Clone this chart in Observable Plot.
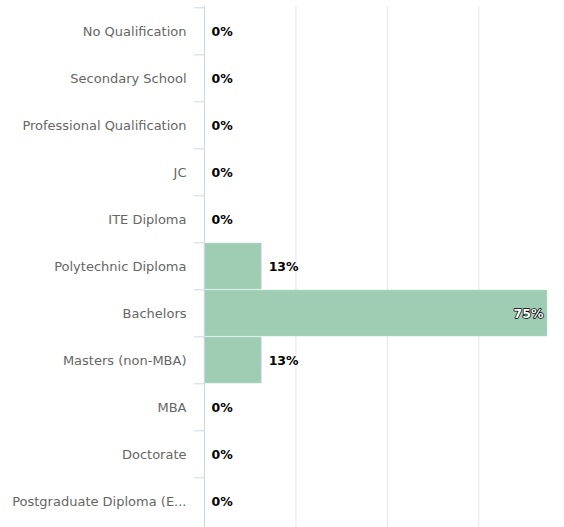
<!DOCTYPE html>
<html>
<head>
<meta charset="utf-8">
<script src="https://cdn.jsdelivr.net/npm/d3@7"></script>
<script src="https://cdn.jsdelivr.net/npm/@observablehq/plot@0.6"></script>
<style>
  html, body { margin: 0; padding: 0; background: #fff; }
  #chart svg { display: block; }
</style>
</head>
<body>
<div id="chart"></div>
<script>
const categories = [
  "No Qualification",
  "Secondary School",
  "Professional Qualification",
  "JC",
  "ITE Diploma",
  "Polytechnic Diploma",
  "Bachelors",
  "Masters (non-MBA)",
  "MBA",
  "Doctorate",
  "Postgraduate Diploma (E..."
];
const values = [0, 0, 0, 0, 0, 12.5, 75, 12.5, 0, 0, 0];
const gridTicks = [20, 40, 60];

const data = categories.map((c, i) => ({category: c, value: values[i], label: Math.round(values[i]) + "%"}));
const insideData = data.filter(d => d.value >= 50);
const outsideData = data.filter(d => d.value < 50);

const H = 527, MT = 6, MB = 0;
const band = (H - MT - MB) / categories.length;

const chart = Plot.plot({
  width: 564,
  height: H,
  marginLeft: 204,
  marginRight: 17,
  marginTop: MT,
  marginBottom: MB,
  style: {fontFamily: "DejaVu Sans, sans-serif", background: "#fff"},
  x: {domain: [0, 75], axis: null},
  y: {domain: categories, padding: 0.02, axis: null},
  marks: [
    Plot.ruleX(gridTicks, {stroke: "#e6e6e6", strokeWidth: 1, strokeOpacity: 1}),
    Plot.barX(data, {x: "value", y: "category", fill: "#9fcdb4", stroke: "#b8dcc8", strokeWidth: 0.5}),
    Plot.axisY({tickSize: 10, text: null, label: null, stroke: "#ccd6eb", strokeOpacity: 1, dy: -band / 2}),
    Plot.axisY({tickSize: 0, tickPadding: 18, label: null, fill: "#666", fontSize: 13}),
    Plot.ruleX([0], {stroke: "#ccd6eb", strokeWidth: 1}),
    Plot.text(outsideData, {x: "value", y: "category", text: "label", textAnchor: "start", dx: 7, fontWeight: "bold", fontSize: 12.5, fill: "#000"}),
    Plot.text(insideData, {x: "value", y: "category", text: "label", textAnchor: "end", dx: -4, fontWeight: "bold", fontSize: 12.5, fill: "#fff", stroke: "#000", strokeWidth: 1.5})
  ]
});
document.getElementById("chart").append(chart);
</script>
</body>
</html>
